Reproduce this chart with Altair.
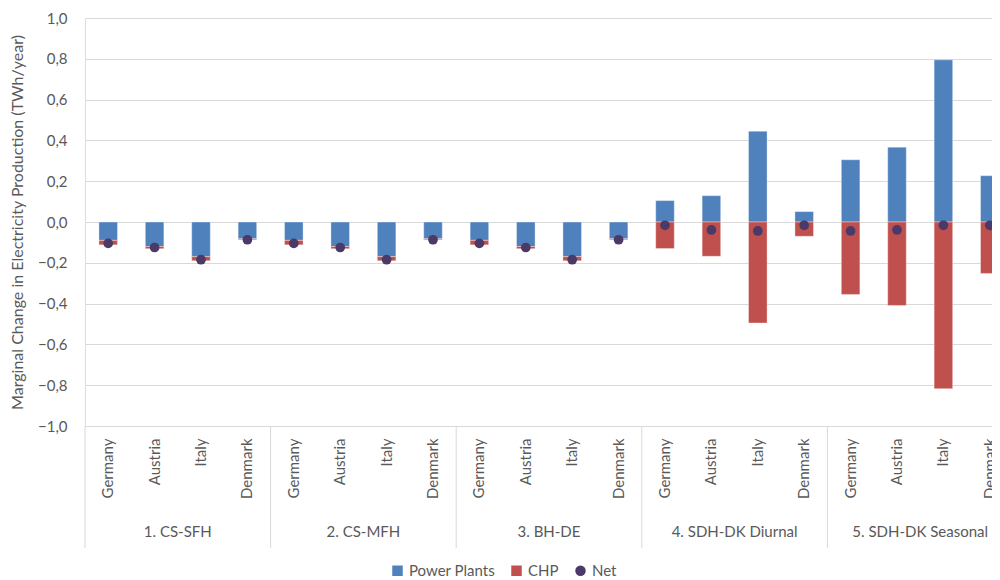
import altair as alt
import pandas as pd

groups = ["1. CS-SFH", "2. CS-MFH", "3. BH-DE", "4. SDH-DK Diurnal", "5. SDH-DK Seasonal"]
countries = ["Germany", "Austria", "Italy", "Denmark"]

power_plants = [
    -0.090, -0.120, -0.170, -0.082,
    -0.090, -0.120, -0.170, -0.082,
    -0.090, -0.120, -0.170, -0.082,
    0.105, 0.129, 0.445, 0.051,
    0.305, 0.367, 0.795, 0.227,
]
chp = [
    -0.022, -0.011, -0.020, -0.005,
    -0.022, -0.011, -0.020, -0.005,
    -0.022, -0.011, -0.020, -0.005,
    -0.130, -0.168, -0.495, -0.070,
    -0.355, -0.409, -0.817, -0.252,
]
net = [
    -0.105, -0.125, -0.185, -0.087,
    -0.105, -0.125, -0.185, -0.087,
    -0.105, -0.125, -0.185, -0.087,
    -0.016, -0.039, -0.044, -0.016,
    -0.044, -0.039, -0.016, -0.016,
]
series_names = ["Power Plants", "CHP", "Net"]
series_colors = ["#4F81BD", "#C0504D", "#4B3A67"]
y_ticks = [-1.0, -0.8, -0.6, -0.4, -0.2, 0.0, 0.2, 0.4, 0.6, 0.8, 1.0]

keys = [f"{g}|{c}" for g in groups for c in countries]

bar_rows = []
for i, k in enumerate(keys):
    bar_rows.append({"key": k, "series": "Power Plants", "value": power_plants[i], "ord": 0})
    bar_rows.append({"key": k, "series": "CHP", "value": chp[i], "ord": 1})
bars_df = pd.DataFrame(bar_rows)
net_df = pd.DataFrame({"key": keys, "series": "Net", "value": net})
sep_df = pd.DataFrame({"key": [f"{g}|{countries[0]}" for g in groups]})
grp_df = pd.DataFrame({"key": [f"{g}|{countries[2]}" for g in groups], "label": groups})

FONT = "Lato"
GREY = "#595959"
W, H = 907, 408

xscale = alt.Scale(domain=keys, range=[0, 928], paddingInner=0, paddingOuter=0)

legend = alt.Legend(
    orient="none", legendX=305, legendY=545, direction="horizontal", title=None,
    labelFont=FONT, labelFontSize=15, labelColor=GREY, symbolSize=110,
    symbolStrokeWidth=0, columnPadding=14, labelOffset=4,
)
color = alt.Color("series:N", scale=alt.Scale(domain=series_names, range=series_colors), legend=legend)
shape = alt.Shape("series:N", scale=alt.Scale(domain=series_names, range=["square", "square", "circle"]), legend=legend)

x_enc = alt.X(
    "key:N", sort=keys, scale=xscale, title=None,
    axis=alt.Axis(
        labelExpr="split(datum.label, '|')[1]", labelAngle=-90, labelAlign="right",
        labelBaseline="middle", labelPadding=12, labelFont=FONT, labelFontSize=15,
        labelColor=GREY, domain=False, ticks=False, grid=False,
    ),
)
y_enc = alt.Y(
    "value:Q", stack="zero",
    scale=alt.Scale(domain=[-1, 1], nice=False),
    title="Marginal Change in Electricity Production (TWh/year)",
    axis=alt.Axis(
        values=y_ticks, labelExpr="replace(format(datum.value, '.1f'), '.', ',')",
        labelFont=FONT, labelFontSize=15, labelColor=GREY, labelPadding=18,
        ticks=False, domain=False, gridColor="#D9D9D9", gridWidth=1,
        titleFont=FONT, titleFontSize=16, titleFontWeight="normal", titleColor=GREY,
        titlePadding=12,
    ),
)

bars = alt.Chart(bars_df).mark_bar(
    width=alt.RelativeBandSize(0.4), stroke="white", strokeWidth=0.8, strokeOpacity=0.45
).encode(
    x=x_enc, y=y_enc, color=color, order=alt.Order("ord:Q"),
)

points = alt.Chart(net_df).mark_point(filled=True, size=95, opacity=1).encode(
    x=alt.X("key:N", sort=keys, scale=xscale),
    y=alt.Y("value:Q"),
    color=color,
    shape=shape,
)

seps = alt.Chart(sep_df).mark_rule(color="#D9D9D9", strokeWidth=1).encode(
    x=alt.X("key:N", sort=keys, scale=xscale, bandPosition=0),
    y=alt.value(H),
    y2=alt.value(H + 122),
)

glabels = alt.Chart(grp_df).mark_text(
    font=FONT, fontSize=15, color=GREY, baseline="middle", align="center"
).encode(
    x=alt.X("key:N", sort=keys, scale=xscale, bandPosition=0),
    y=alt.value(H + 106),
    text="label:N",
)

chart = alt.layer(bars, points, seps, glabels).properties(
    width=W, height=H,
    autosize=alt.AutoSizeParams(type="none"),
    padding={"left": 77, "top": 10, "right": 0, "bottom": 154},
).configure_view(stroke=None).configure(background="white")

chart.save("out.html", embed_options={"renderer": "svg", "actions": False})
